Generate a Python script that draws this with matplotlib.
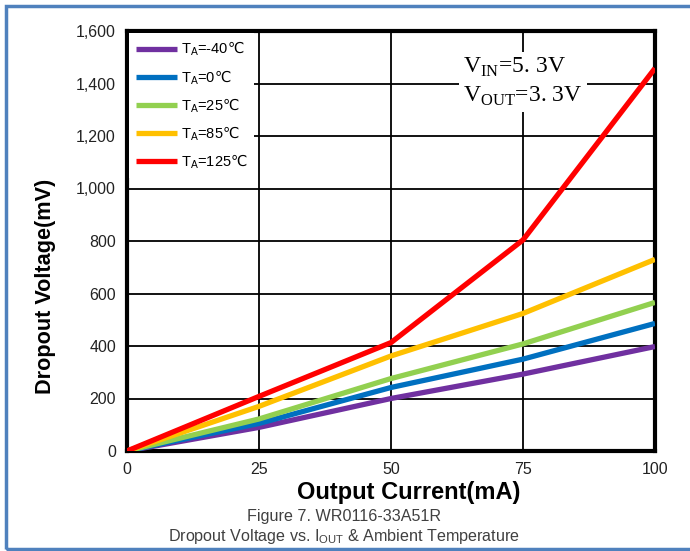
import matplotlib.pyplot as plt
from matplotlib.patches import Rectangle

# output current (mA) and dropout voltage (mV) per ambient temperature
current = [0, 25, 50, 75, 100]
v_m40 = [0, 90, 200, 293, 398]
v_0 = [0, 105, 242, 350, 486]
v_25 = [0, 122, 276, 408, 566]
v_85 = [0, 170, 362, 524, 730]
v_125 = [0, 208, 413, 804, 1458]

labels = ['-40', '0', '25', '85', '125']
colors = ['#7030a0', '#0070c0', '#92d050', '#ffc000', '#ff0000']

plt.rcParams['font.family'] = ['Liberation Sans', 'DejaVu Sans']
plt.rcParams['mathtext.fontset'] = 'dejavusans'

fig = plt.figure(figsize=(6.9, 5.51), dpi=100)
ax = fig.add_axes([127/690, 100/551, 528/690, 420/551])

series = [v_m40, v_0, v_25, v_85, v_125]
for ys, lab, c in zip(series, labels, colors):
    ax.plot(current, ys, color=c, lw=3.8, solid_capstyle='butt',
            label=r'T$_\mathregular{A}$=' + lab + r'$\mathrm{℃}$', zorder=3)

ax.set_xlim(0, 100)
ax.set_ylim(0, 1600)
ax.set_xticks([0, 25, 50, 75, 100])
ax.set_yticks(range(0, 1601, 200))
ax.set_yticklabels([f'{v:,}' for v in range(0, 1601, 200)])
ax.tick_params(length=0, labelsize=11.5, colors='#222222', pad=8)
ax.grid(True, color='black', lw=1.3)
for s in ax.spines.values():
    s.set_linewidth(3)

leg = ax.legend(loc='upper left', bbox_to_anchor=(0.0, 1.0), fontsize=10.5,
                frameon=True, fancybox=False, handlelength=2.8,
                handletextpad=0.3, labelspacing=0.65, borderpad=0.45,
                borderaxespad=0.15)
leg.get_frame().set_edgecolor('none')
leg.get_frame().set_facecolor('white')
leg.get_frame().set_alpha(1)

ax.text(0.636, 0.94, r'V$_\mathregular{IN}$=5. 3V' + '\n' + r'V$_\mathregular{OUT}$=3. 3V',
        transform=ax.transAxes, family='Liberation Serif', fontsize=17,
        va='top', ha='left', linespacing=1.3,
        bbox=dict(facecolor='white', edgecolor='none', pad=3), zorder=4)

fig.text(46/690, 1 - 286/551, 'Dropout Voltage(mV)', fontsize=15.6,
         fontweight='bold', rotation=90, ha='center', va='center')
fig.text(409/690, 1 - 492/551, 'Output Current(mA)', fontsize=17,
         fontweight='bold', ha='center', va='center')
fig.text(344/690, 1 - 517/551, 'Figure 7. WR0116-33A51R', fontsize=11.6,
         color='#404040', ha='center', va='center')
fig.text(344/690, 1 - 537/551,
         r'Dropout Voltage vs. I$_\mathregular{OUT}$ & Ambient Temperature',
         fontsize=11.6, color='#404040', ha='center', va='center')

# page frame
fig.patches.append(Rectangle((5.5/690, 2/551), 1.0, 543.5/551,
                             transform=fig.transFigure, fill=False,
                             edgecolor='#4f81bd', lw=2.5))

fig.savefig('out.png', dpi=100)
